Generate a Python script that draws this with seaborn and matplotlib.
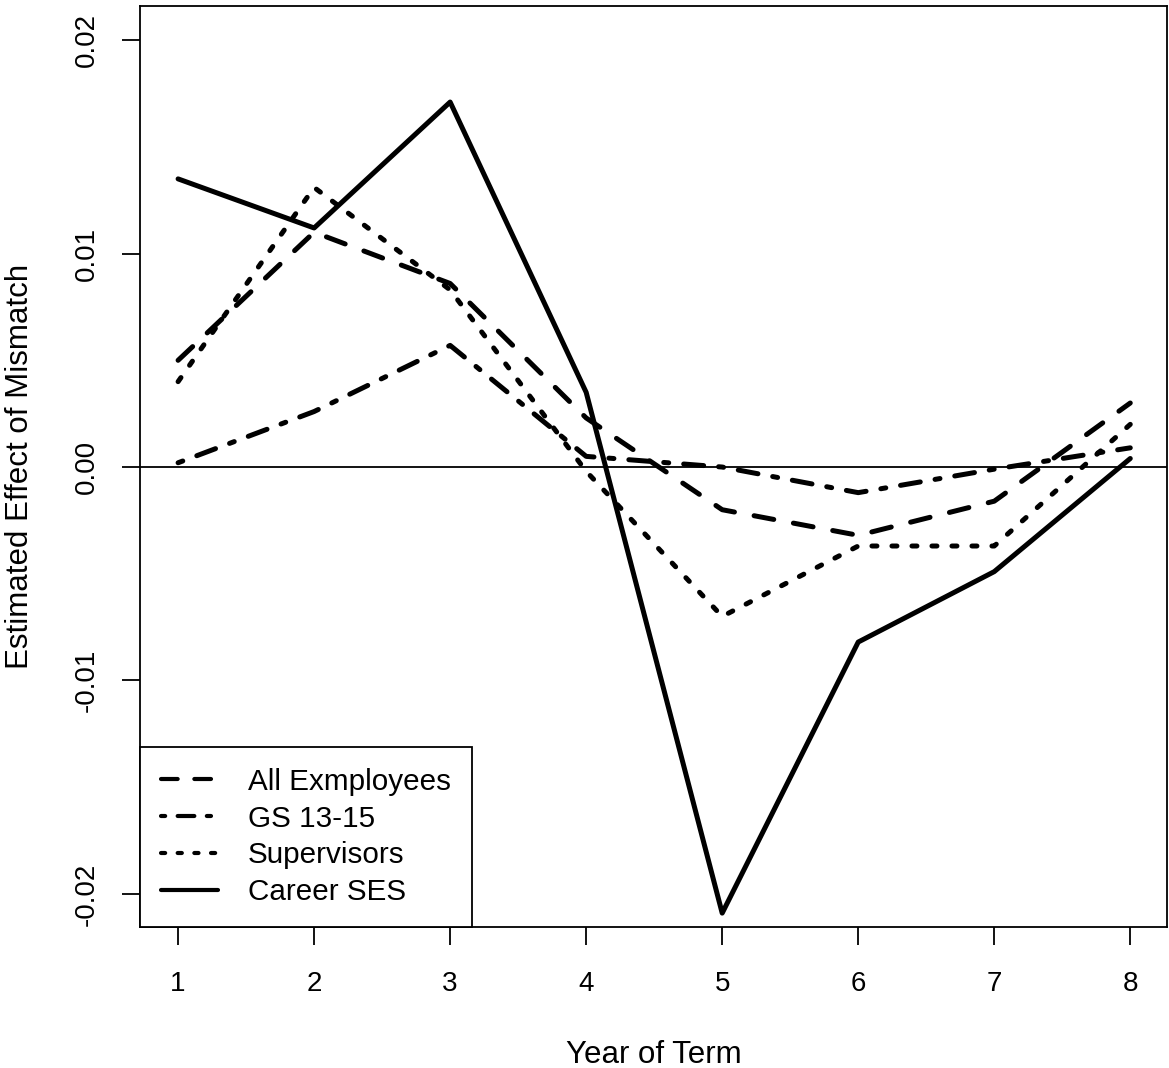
import pandas as pd
import numpy as np
import seaborn as sns
import matplotlib.pyplot as plt
from matplotlib.lines import Line2D

# dati
anni = [1, 2, 3, 4, 5, 6, 7, 8]
all_employees = [0.0050, 0.0110, 0.0086, 0.0023, -0.0020, -0.0032, -0.0016, 0.0030]
gs_13_15 = [0.0002, 0.0026, 0.0057, 0.0005, 0.0000, -0.0012, -0.0001, 0.0009]
supervisors = [0.0040, 0.0131, 0.0083, -0.0002, -0.0070, -0.0037, -0.0037, 0.0020]
career_ses = [0.0135, 0.0112, 0.0171, 0.0035, -0.0209, -0.0082, -0.0049, 0.0004]

serie = ["All Exmployees", "GS 13-15", "Supervisors", "Career SES"]
y_ticks = [-0.02, -0.01, 0.00, 0.01, 0.02]
y_tick_labels = ["-0.02", "-0.01", "0.00", "0.01", "0.02"]

# stili linea tipo R (lty 2, 4, 3, 1)
tratteggi = {
    "All Exmployees": (4, 4),
    "GS 13-15": (1, 3, 4, 3),
    "Supervisors": (1, 3),
    "Career SES": "",
}

df = pd.concat([
    pd.DataFrame({"Anno": anni, "Valore": v, "Serie": s})
    for s, v in zip(serie, [all_employees, gs_13_15, supervisors, career_ses])
])

plt.rcParams["font.family"] = ["Liberation Sans", "DejaVu Sans"]

fig = plt.figure(figsize=(11.69, 10.68), dpi=100)
ax = fig.add_axes([140 / 1169, 1 - 927 / 1068, 1027 / 1169, 921 / 1068])

sns.lineplot(
    data=df, x="Anno", y="Valore", style="Serie", style_order=serie,
    dashes=tratteggi, color="black", lw=3.6, legend=False, ax=ax,
    estimator=None, sort=False,
    dash_capstyle="round", solid_capstyle="round",
    dash_joinstyle="round", solid_joinstyle="round",
)

ax.axhline(0, color="black", lw=1.3, zorder=1)

ax.set_xlim(0.72, 8.27)
ax.set_ylim(-0.02155, 0.0216)
ax.set_xticks(anni)
ax.set_xticklabels([str(a) for a in anni])
ax.set_yticks(y_ticks)
ax.set_yticklabels(y_tick_labels, rotation=90, va="center")

for sp in ax.spines.values():
    sp.set_linewidth(1.3)
    sp.set_color("black")

ax.tick_params(axis="both", direction="out", length=13, width=1.3, labelsize=20, color="black")
ax.tick_params(axis="x", pad=19)
ax.tick_params(axis="y", pad=16)

ax.set_xlabel("Year of Term", fontsize=22.5, va="center")
ax.set_ylabel("Estimated Effect of Mismatch", fontsize=22.5, va="center")
ax.xaxis.set_label_coords(0.5, -0.139)
ax.yaxis.set_label_coords(-0.117, 0.5)

# legenda
maniglie = []
for s in serie:
    d = tratteggi[s]
    if d == "":
        maniglie.append(Line2D([], [], color="black", lw=3.0, ls="-", solid_capstyle="round"))
    else:
        maniglie.append(Line2D([], [], color="black", lw=3.0, dashes=d, dash_capstyle="round"))

leg = ax.legend(
    maniglie, serie, loc="lower left", bbox_to_anchor=(0, 0), borderaxespad=0,
    fontsize=21.3, frameon=True, fancybox=False, framealpha=1, edgecolor="black",
    handlelength=1.95, handletextpad=1.0, labelspacing=0.3, borderpad=0.7,
)
leg.get_frame().set_linewidth(1.3)

plt.savefig("out.png", dpi=100)
